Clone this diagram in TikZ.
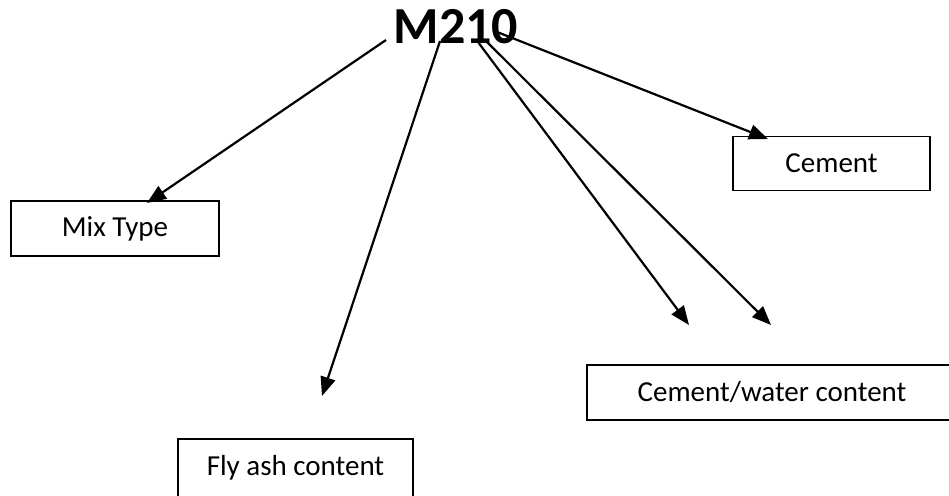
\documentclass[tikz,border=0pt]{standalone}
\usepackage{fontspec}
\setmainfont{Carlito}
\usetikzlibrary{arrows.meta}
\begin{document}
\begin{tikzpicture}[x=1pt,y=-1pt,
  box/.style={draw, line width=1.5pt, inner sep=0pt, font=\fontsize{29}{35}\selectfont},
  conn/.style={line width=2.2pt, -{Triangle[length=19pt,width=15pt]}}]
\fill[white] (0,0) rectangle (949,495);
\useasboundingbox (0,0) rectangle (949,495);
\begin{scope}
\clip (0,0) rectangle (949,495);
\node[font=\fontsize{52}{60}\selectfont\bfseries, inner sep=0pt] (title) at (456,27) {M210};
\node[box, minimum width=208pt, minimum height=55pt] (mix) at (115,228.5) {Mix Type};
\node[box, minimum width=197pt, minimum height=54pt] (cement) at (831.5,163.5) {Cement};
\node[box, minimum width=370pt, minimum height=55pt] (cw) at (772,392.5) {Cement/water content};
\node[box, minimum width=235pt, minimum height=58pt] (fly) at (295.5,468) {Fly ash content};
% start points on the title
\coordinate (s1) at (386,40);
\coordinate (s2) at (440,41);
\coordinate (s3) at (478,42);
\coordinate (s4) at (487,42);
\coordinate (s5) at (497,32);
% arrow tips
\coordinate (t1) at (147,203);
\coordinate (t2) at (322,396);
\coordinate (t3) at (689,325);
\coordinate (t4) at (771,325);
\coordinate (t5) at (768,139);
\draw[conn] (s1) -- (t1);
\draw[conn] (s2) -- (t2);
\draw[conn] (s3) -- (t3);
\draw[conn] (s4) -- (t4);
\draw[conn] (s5) -- (t5);
\end{scope}
\end{tikzpicture}
\end{document}
